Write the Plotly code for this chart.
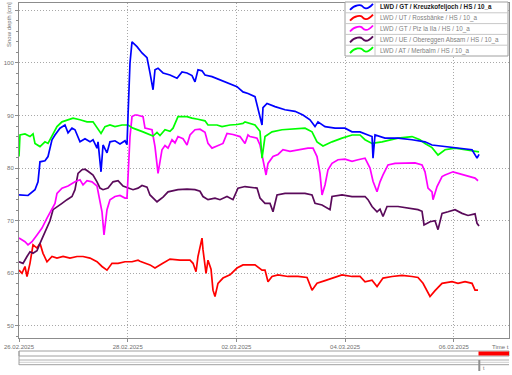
import pandas as pd
import plotly.graph_objects as go

# ---------------- data (day offsets from 26.02.2025 00:00, snow depth cm) ----------------
kreuz_days = [0, 0.166, 0.294, 0.350, 0.386, 0.478, 0.534, 0.607, 0.662, 0.754, 0.846, 0.902, 0.975, 1.030,
              1.122, 1.214, 1.306, 1.362, 1.435, 1.454, 1.509, 1.546, 1.619, 1.674, 1.766, 1.858, 1.950, 1.987,
              2.006, 2.042, 2.079, 2.171, 2.263, 2.355, 2.410, 2.447, 2.466, 2.502, 2.558, 2.650, 2.778, 2.907,
              2.999, 3.091, 3.183, 3.238, 3.293, 3.367, 3.422, 3.551, 3.698, 3.845, 4.011, 4.121, 4.213, 4.342,
              4.397, 4.471, 4.489, 4.563, 4.710, 4.894, 5.078, 5.225, 5.354, 5.446, 5.501, 5.630, 5.814, 5.998,
              6.127, 6.274, 6.421, 6.495, 6.513, 6.550, 6.734, 6.973, 7.231, 7.470, 7.599, 7.838, 8.077, 8.335,
              8.427, 8.464]
kreuz_hs = [74.9, 74.8, 75.9, 77.4, 81.2, 81.4, 82.2, 85.4, 86.3, 87.6, 88.2, 86.7, 87.6, 87.3,
            85.0, 85.6, 85.0, 85.4, 83.8, 85.0, 79.3, 84.4, 82.9, 85.0, 85.2, 84.6, 85.2, 84.5,
            90.0, 100.0, 104.0, 103.1, 101.9, 101.0, 98.1, 96.4, 94.9, 98.7, 99.0, 98.1, 97.7, 97.1,
            98.3, 98.1, 97.6, 96.4, 98.7, 98.5, 97.7, 97.4, 96.8, 96.1, 95.5, 94.5, 94.2, 93.6,
            91.1, 88.2, 91.5, 92.3, 91.7, 91.1, 90.8, 90.1, 89.2, 87.9, 88.8, 87.9, 87.6, 87.6,
            86.9, 86.9, 86.3, 86.0, 81.9, 86.3, 85.7, 85.7, 85.4, 85.0, 84.4, 84.1, 83.8, 83.5,
            81.9, 82.6]

ross_days = [0, 0.055, 0.110, 0.147, 0.202, 0.258, 0.331, 0.386, 0.442, 0.515, 0.607, 0.699, 0.810, 0.938,
             1.067, 1.178, 1.306, 1.435, 1.527, 1.619, 1.711, 1.822, 1.950, 2.079, 2.190, 2.226, 2.410, 2.502,
             2.631, 2.778, 2.962, 3.146, 3.202, 3.257, 3.293, 3.367, 3.385, 3.441, 3.477, 3.533, 3.569, 3.606,
             3.661, 3.753, 3.882, 4.011, 4.121, 4.213, 4.342, 4.471, 4.526, 4.581, 4.655, 4.765, 4.949, 5.133,
             5.299, 5.391, 5.483, 5.630, 5.759, 5.943, 6.127, 6.274, 6.366, 6.495, 6.587, 6.697, 6.863, 7.047,
             7.231, 7.341, 7.433, 7.525, 7.562, 7.654, 7.783, 7.967, 8.077, 8.206, 8.335, 8.390, 8.445]
ross_hs = [60.6, 60.0, 61.3, 59.4, 61.9, 65.4, 64.8, 65.7, 63.8, 62.2, 63.2, 62.9, 63.2, 62.9,
           63.2, 63.2, 62.9, 62.2, 61.3, 60.6, 61.9, 61.9, 62.2, 62.2, 62.5, 62.3, 61.6, 61.0,
           61.8, 62.7, 62.5, 62.5, 61.9, 60.3, 63.2, 66.7, 64.5, 60.0, 62.5, 60.8, 56.8, 55.6,
           58.1, 59.1, 59.7, 61.0, 61.6, 61.6, 61.6, 60.6, 60.6, 58.4, 59.4, 59.7, 59.4, 59.4,
           59.2, 56.8, 58.1, 58.6, 59.1, 59.7, 59.4, 59.4, 58.4, 58.7, 57.5, 59.1, 59.4, 59.6,
           59.4, 59.2, 58.1, 56.5, 55.6, 56.7, 58.1, 58.4, 58.1, 58.4, 58.1, 56.8, 56.8]

piz_days = [0, 0.110, 0.166, 0.239, 0.331, 0.423, 0.515, 0.607, 0.662, 0.699, 0.791, 0.902, 1.030, 1.122,
            1.178, 1.251, 1.343, 1.435, 1.490, 1.527, 1.564, 1.619, 1.674, 1.766, 1.858, 1.950, 1.987, 2.006,
            2.042, 2.079, 2.134, 2.171, 2.282, 2.318, 2.447, 2.502, 2.558, 2.631, 2.686, 2.742, 2.815, 2.870,
            2.925, 3.018, 3.091, 3.146, 3.238, 3.330, 3.422, 3.477, 3.551, 3.643, 3.753, 3.827, 3.937, 4.066,
            4.158, 4.213, 4.250, 4.379, 4.434, 4.489, 4.545, 4.581, 4.673, 4.765, 4.857, 4.986, 5.133, 5.317,
            5.409, 5.483, 5.538, 5.575, 5.630, 5.685, 5.759, 5.869, 5.998, 6.127, 6.237, 6.366, 6.458, 6.513,
            6.587, 6.642, 6.697, 6.789, 6.918, 7.102, 7.286, 7.415, 7.470, 7.525, 7.599, 7.617, 7.691, 7.783,
            7.838, 7.985, 8.151, 8.261, 8.390, 8.445]
piz_hs = [66.7, 66.0, 65.4, 66.0, 67.3, 68.6, 70.5, 72.1, 73.3, 75.2, 76.2, 76.6, 77.4, 77.8,
          76.8, 77.6, 77.4, 76.6, 74.0, 71.7, 67.3, 72.1, 74.0, 74.6, 74.8, 74.3, 74.3, 79.0,
          86.0, 89.8, 90.1, 90.1, 89.8, 87.6, 87.3, 84.1, 79.0, 83.5, 84.3, 83.8, 85.4, 84.8,
          86.0, 85.6, 84.4, 86.3, 87.3, 87.4, 86.8, 84.7, 83.8, 84.2, 84.7, 86.6, 86.4, 86.0,
          84.7, 86.3, 86.0, 85.7, 84.4, 81.6, 78.7, 80.9, 82.2, 82.6, 83.5, 83.2, 83.5, 83.8,
          83.8, 82.2, 79.0, 74.9, 76.8, 79.7, 80.9, 81.6, 81.7, 81.3, 81.6, 81.9, 80.0, 77.5,
          75.5, 77.4, 78.7, 80.6, 80.9, 80.9, 81.0, 80.6, 79.3, 76.2, 75.5, 74.0, 76.5, 78.4,
          78.7, 79.3, 78.8, 78.5, 78.1, 77.6]

ober_days = [0, 0.074, 0.147, 0.202, 0.258, 0.331, 0.386, 0.442, 0.515, 0.570, 0.626, 0.699, 0.791, 0.883,
             0.975, 1.030, 1.086, 1.159, 1.214, 1.270, 1.362, 1.435, 1.490, 1.546, 1.638, 1.730, 1.822, 1.914,
             2.006, 2.098, 2.190, 2.263, 2.355, 2.410, 2.539, 2.650, 2.742, 2.925, 3.091, 3.238, 3.330, 3.385,
             3.477, 3.606, 3.698, 3.827, 3.937, 4.029, 4.158, 4.379, 4.434, 4.526, 4.618, 4.673, 4.747, 4.894,
             5.078, 5.262, 5.391, 5.446, 5.575, 5.667, 5.722, 5.759, 5.943, 6.127, 6.274, 6.366, 6.421, 6.495,
             6.587, 6.642, 6.697, 6.771, 6.973, 7.157, 7.341, 7.415, 7.452, 7.562, 7.654, 7.709, 7.783, 7.893,
             8.022, 8.151, 8.261, 8.390, 8.427, 8.464]
ober_hs = [62.2, 61.9, 63.2, 64.1, 63.8, 64.3, 65.7, 67.0, 68.9, 70.0, 72.1, 72.7, 73.3, 74.0,
           74.6, 75.9, 79.0, 79.7, 79.8, 79.4, 78.7, 77.4, 76.2, 75.9, 76.2, 77.4, 77.6, 76.6,
           76.2, 75.9, 76.2, 76.7, 76.4, 74.9, 73.6, 74.5, 75.5, 75.9, 76.0, 75.9, 75.6, 74.6,
           74.0, 74.3, 74.0, 74.6, 74.0, 76.2, 76.5, 76.2, 74.3, 73.3, 73.3, 71.7, 74.9, 75.2,
           75.2, 75.2, 74.9, 73.3, 73.0, 72.4, 72.1, 74.6, 74.9, 74.6, 74.6, 74.6, 74.0, 72.7,
           71.7, 72.2, 70.8, 72.7, 72.7, 72.4, 72.1, 71.8, 69.2, 69.8, 70.0, 68.3, 71.4, 71.7,
           72.1, 71.4, 71.0, 71.3, 69.5, 69.0]

merb_days = [0, 0.018, 0.110, 0.202, 0.258, 0.294, 0.386, 0.478, 0.534, 0.607, 0.699, 0.791, 0.902, 0.994,
             1.122, 1.251, 1.362, 1.454, 1.509, 1.582, 1.674, 1.766, 1.895, 2.006, 2.098, 2.282, 2.466, 2.539,
             2.594, 2.686, 2.778, 2.834, 2.925, 3.091, 3.183, 3.293, 3.422, 3.477, 3.643, 3.735, 3.882, 4.011,
             4.121, 4.158, 4.342, 4.434, 4.471, 4.526, 4.655, 4.839, 5.078, 5.262, 5.391, 5.483, 5.593, 5.759,
             5.943, 6.127, 6.274, 6.366, 6.495, 6.679, 6.973, 7.231, 7.378, 7.470, 7.599, 7.709, 7.838, 8.022,
             8.206, 8.390, 8.464]
merb_hs = [82.2, 86.3, 86.5, 86.0, 86.5, 84.7, 84.1, 85.0, 84.7, 86.0, 87.9, 88.8, 89.2, 89.5,
           89.2, 88.8, 88.8, 87.3, 86.6, 87.9, 88.2, 87.9, 88.2, 88.2, 87.6, 86.9, 86.1, 86.8,
           86.2, 87.3, 87.0, 87.6, 89.8, 89.8, 89.5, 89.3, 89.0, 88.2, 88.2, 87.9, 88.2, 88.3,
           88.5, 88.8, 88.2, 87.0, 81.9, 86.0, 86.9, 87.3, 87.4, 87.6, 86.9, 85.0, 84.2, 85.0,
           85.7, 86.3, 86.3, 85.4, 84.7, 85.0, 85.7, 86.0, 85.4, 84.7, 83.9, 82.5, 83.5, 83.8,
           83.5, 83.2, 83.1]

series_names = ["LWD / GT / Kreuzkofeljoch / HS / 10_a",
                "LWD / UT / Rossbänke / HS / 10_a",
                "LWD / GT / Piz la Ila / HS / 10_a",
                "LWD / UE / Obereggen Absam / HS / 10_a",
                "LWD / AT / Merbalm / HS / 10_a"]
series_colors = ["#0000ff", "#ff0000", "#ff00ff", "#5a0a5a", "#00ff00"]

x_tick_dates = ["2025-02-26", "2025-02-28", "2025-03-02", "2025-03-04", "2025-03-06"]
x_tick_labels = ["26.02.2025", "28.02.2025", "02.03.2025", "04.03.2025", "06.03.2025"]
y_tick_vals = [50, 60, 70, 80, 90, 100, 110]
y_tick_labels = ["50", "60", "70", "80", "90", "100", ""]

start = pd.Timestamp("2025-02-26 00:00")


def to_time(days):
    return [start + pd.Timedelta(days=d) for d in days]


all_days = [kreuz_days, ross_days, piz_days, ober_days, merb_days]
all_hs = [kreuz_hs, ross_hs, piz_hs, ober_hs, merb_hs]

fig = go.Figure()
order = [1, 3, 2, 4, 0]
for i in order:
    fig.add_trace(go.Scatter(x=to_time(all_days[i]), y=all_hs[i], mode="lines",
                             name=series_names[i],
                             line=dict(color=series_colors[i], width=1.7),
                             showlegend=False, hoverinfo="skip"))

# ---------------- layout ----------------
W, H = 512, 375
L, R, T, B = 19, 509, 3, 338


def px(xp):
    return (xp - L) / (R - L)


def py(yp):
    return (B - yp) / (B - T)


FONT = "Liberation Sans, Arial, sans-serif"
GRID = "#a8a8a8"
AXIS = "#8c8c8c"

fig.update_layout(
    width=W, height=H,
    margin=dict(l=L, r=W - R, t=T, b=H - B, pad=0),
    paper_bgcolor="white", plot_bgcolor="white",
    font=dict(family=FONT, size=6, color="#666666"),
    xaxis=dict(range=[start, start + pd.Timedelta(days=9.015)],
               tickvals=[pd.Timestamp(d) for d in x_tick_dates], ticktext=x_tick_labels,
               showgrid=True, gridcolor=GRID, griddash="1px,2px", gridwidth=1,
               showline=True, linecolor=AXIS, linewidth=1, mirror=True,
               ticks="outside", ticklen=3, tickcolor=AXIS,
               tickfont=dict(size=6, color="#707070"), zeroline=False),
    yaxis=dict(range=[47.7, 111.4], tickvals=y_tick_vals, ticktext=y_tick_labels,
               showgrid=True, gridcolor=GRID, griddash="1px,2px", gridwidth=1,
               showline=True, linecolor=AXIS, linewidth=1, mirror=True,
               ticks="outside", ticklen=3, tickcolor=AXIS,
               minor=dict(dtick=2, ticklen=2, tickcolor=AXIS, ticks="outside", showgrid=False),
               tickfont=dict(size=6, color="#707070"), zeroline=False),
)

shapes = []
annotations = []

# y-axis title
annotations.append(dict(x=px(9), y=py(25), xref="paper", yref="paper", text="Snow depth [cm]",
                        textangle=-90, showarrow=False, xanchor="center", yanchor="middle",
                        font=dict(size=6, color="#707070")))

# legend box
lx0, lx1, ly0 = 345, 508, 2
row_h = 10.8
lsep = 375
shapes.append(dict(type="rect", xref="paper", yref="paper", x0=px(lx0), x1=px(lx1),
                   y0=py(ly0), y1=py(ly0 + 5 * row_h), fillcolor="white",
                   line=dict(color="#a0a0a0", width=1), layer="above"))
shapes.append(dict(type="line", xref="paper", yref="paper", x0=px(lsep), x1=px(lsep),
                   y0=py(ly0), y1=py(ly0 + 5 * row_h), line=dict(color="#c8c8c8", width=1), layer="above"))
for k in range(5):
    yt = ly0 + k * row_h
    yc = yt + row_h / 2
    if k > 0:
        shapes.append(dict(type="line", xref="paper", yref="paper", x0=px(lx0), x1=px(lx1),
                           y0=py(yt), y1=py(yt), line=dict(color="#c8c8c8", width=1), layer="above"))
    pts = [(350, yc + 2.5), (355, yc - 3.5), (361, yc - 1.5), (366, yc + 1.5), (373, yc - 3.5)]
    path = "M {},{} C {},{} {},{} {},{} S {},{} {},{}".format(
        px(pts[0][0]), py(pts[0][1]),
        px(pts[1][0]), py(pts[1][1]), px(pts[2][0]), py(pts[2][1] - 1), px(pts[2][0] + 1), py(pts[2][1]),
        px(pts[3][0]), py(pts[3][1] + 3), px(pts[4][0]), py(pts[4][1]))
    shapes.append(dict(type="path", xref="paper", yref="paper", path=path,
                       line=dict(color=series_colors[k], width=1.8), layer="above"))
    txt = series_names[k]
    if k == 0:
        txt = "<b>" + txt + "</b>"
    annotations.append(dict(x=px(378), y=py(yc), xref="paper", yref="paper", text=txt,
                            showarrow=False, xanchor="left", yanchor="middle",
                            font=dict(size=6.3, color="#202020" if k == 0 else "#808080")))

# time bar widget below the axis
shapes.append(dict(type="rect", xref="paper", yref="paper", x0=px(19), x1=px(509),
                   y0=py(351), y1=py(356), fillcolor="white", line=dict(color="#a0a0a0", width=1)))
shapes.append(dict(type="rect", xref="paper", yref="paper", x0=px(478.5), x1=px(509),
                   y0=py(351.5), y1=py(355.5), fillcolor="#ff0000", line=dict(width=0)))
for yy, c in [(360, "#b0b0b0"), (362.3, "#d0d0d0"), (364.7, "#a0a0a0")]:
    shapes.append(dict(type="line", xref="paper", yref="paper", x0=px(19), x1=px(509),
                       y0=py(yy), y1=py(yy), line=dict(color=c, width=1)))
shapes.append(dict(type="line", xref="paper", yref="paper", x0=px(19), x1=px(19),
                   y0=py(351), y1=py(365), line=dict(color="#a0a0a0", width=1)))
shapes.append(dict(type="line", xref="paper", yref="paper", x0=px(479.3), x1=px(479.3),
                   y0=py(360), y1=py(371), line=dict(color="#909090", width=2)))
annotations.append(dict(x=px(481), y=py(368), xref="paper", yref="paper", text="t",
                        showarrow=False, xanchor="left", yanchor="middle",
                        font=dict(size=5, color="#707070")))
annotations.append(dict(x=px(511), y=py(347), xref="paper", yref="paper", text="Time t",
                        showarrow=False, xanchor="right", yanchor="middle",
                        font=dict(size=6, color="#707070")))

fig.update_layout(shapes=shapes, annotations=annotations)
fig.write_html("out.html", config={"displayModeBar": False},
               post_script="document.body.style.margin='0px';")
